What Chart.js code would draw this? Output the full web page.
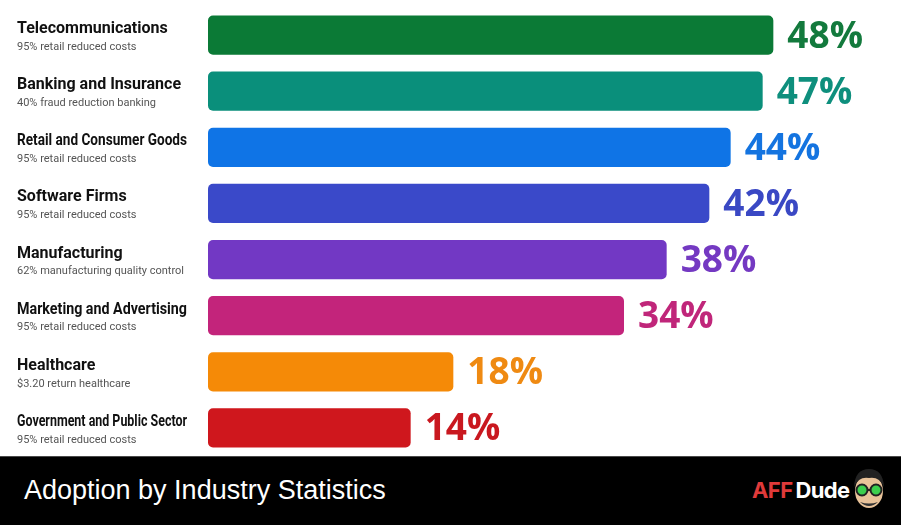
<!DOCTYPE html>
<html>
<head>
<meta charset="utf-8">
<script src="https://cdn.jsdelivr.net/npm/chart.js@4"></script>
<style>
  html, body { margin: 0; padding: 0; background: #fff; }
  #wrap { position: relative; width: 901px; height: 456px; }
  #footer {
    position: relative; width: 901px; height: 69px; background: #000;
    border-top: 1px solid #4a4a4a; box-sizing: border-box;
  }
  #footer .title {
    position: absolute; left: 24px; top: 18px; color: #fff;
    font: 400 27px "Liberation Sans", Arial, sans-serif;
  }
  #footer .logo {
    position: absolute; left: 752px; top: 20px;
    font: 700 22px Inter, Roboto, sans-serif; letter-spacing: -0.6px;
  }
  #footer .logo .aff { color: #e03a3a; margin-right: 3px; }
  #footer .logo .dude { color: #fff; }
  #footer svg { position: absolute; left: 851px; top: 9px; }
</style>
</head>
<body>
<div id="wrap"><canvas id="chart"></canvas></div>
<div id="footer">
  <div class="title">Adoption by Industry Statistics</div>
  <div class="logo"><span class="aff">AFF</span><span class="dude">Dude</span></div>
  <svg width="36" height="46" viewBox="0 0 36 46">
    <ellipse cx="18" cy="25" rx="14" ry="17" fill="#e9c39a"/>
    <path d="M3 21 Q4 3 18 3 Q32 3 33 21 Q28 10 18 12 Q8 10 3 21 Z" fill="#222"/>
    <circle cx="11" cy="24" r="5.5" fill="#3ccf4e" stroke="#222" stroke-width="2"/>
    <circle cx="25" cy="24" r="5.5" fill="#3ccf4e" stroke="#222" stroke-width="2"/>
    <line x1="16" y1="24" x2="20" y2="24" stroke="#222" stroke-width="2"/>
    <path d="M9 36 Q18 44 27 36 Q18 39 9 36 Z" fill="#333"/>
  </svg>
</div>
<script>
// valores
const industries = [
  'Telecommunications', 'Banking and Insurance', 'Retail and Consumer Goods',
  'Software Firms', 'Manufacturing', 'Marketing and Advertising',
  'Healthcare', 'Government and Public Sector'
];
const notes = [
  '95% retail reduced costs', '40% fraud reduction banking', '95% retail reduced costs',
  '95% retail reduced costs', '62% manufacturing quality control', '95% retail reduced costs',
  '$3.20 return healthcare', '95% retail reduced costs'
];
const adoption = [48, 47, 44, 42, 38, 34, 18, 14];
const barColors = ['#0b7a36', '#0a8f7b', '#0f74e6', '#3a49c9', '#7238c4', '#c3247b', '#f58a07', '#cf171d'];
const textColors = ['#137a3d', '#0e8f7d', '#1474e0', '#3a48c4', '#7439c2', '#c0267a', '#ef8a12', '#c9181f'];

const X_MIN = -5;
const X_MAX = 58;

// Dibuja etiquetas de industria y porcentajes
const labelsPlugin = {
  id: 'labels',
  afterDatasetsDraw(chart) {
    const ctx = chart.ctx;
    const meta = chart.getDatasetMeta(0);
    ctx.save();
    meta.data.forEach((bar, i) => {
      ctx.textBaseline = 'middle';
      ctx.textAlign = 'left';
      ctx.fillStyle = '#111';
      ctx.font = '700 16px Roboto, sans-serif';
      ctx.fillText(industries[i], 17, bar.y - 6, 170);
      ctx.fillStyle = '#555';
      ctx.font = '400 11px Roboto, sans-serif';
      ctx.fillText(notes[i], 17, bar.y + 12);
      ctx.fillStyle = textColors[i];
      ctx.font = '700 37px "Open Sans", sans-serif';
      ctx.fillText(adoption[i] + '%', bar.x + 14, bar.y + 2);
    });
    ctx.restore();
  }
};

const ctx = document.getElementById('chart').getContext('2d');
new Chart(ctx, {
  type: 'bar',
  data: {
    labels: industries,
    datasets: [{
      data: adoption,
      base: X_MIN,
      backgroundColor: barColors,
      borderRadius: 5,
      borderSkipped: false,
      barPercentage: 0.7,
      categoryPercentage: 1
    }]
  },
  options: {
    indexAxis: 'y',
    responsive: true,
    maintainAspectRatio: false,
    animation: false,
    layout: { padding: { left: 208, right: 21, top: 7, bottom: 0 } },
    plugins: { legend: { display: false }, tooltip: { enabled: false } },
    scales: {
      x: { display: false, min: X_MIN, max: X_MAX },
      y: { display: false }
    }
  },
  plugins: [labelsPlugin]
});
</script>
</body>
</html>
